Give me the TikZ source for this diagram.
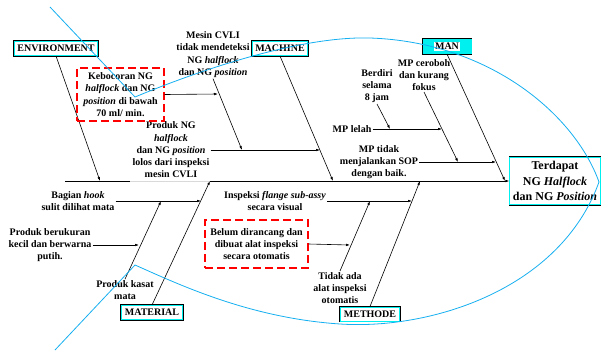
\documentclass[tikz,border=0pt]{standalone}
\usepackage{fontspec}
\setmainfont{Liberation Serif}
\usetikzlibrary{arrows.meta}
\usetikzlibrary{calc}
\definecolor{boxcyan}{RGB}{0,240,240}
\definecolor{fishblue}{RGB}{20,175,240}

\begin{document}
\begin{tikzpicture}[x=1pt,y=-1pt,
        txt/.style={font=\fontsize{10}{12.3}\selectfont\bfseries, align=center, inner sep=1pt},
        catbox/.style={txt, draw=boxcyan, line width=1pt, fill=white, inner xsep=3pt, minimum height=14pt, preaction={draw=black, line width=2.8pt}},
        effect/.style={catbox, font=\fontsize{12}{15.5}\selectfont\bfseries, minimum width=85pt, minimum height=47pt},
        redbox/.style={txt, draw=red, line width=1.3pt, dash pattern=on 8pt off 4pt},
        bone/.style={line width=0.6pt, -{Latex[length=4pt,width=2.6pt]}},
        fish/.style={draw=fishblue, line width=0.8pt}]
            \useasboundingbox (0,0) rectangle (601,351);
            \node[catbox] (env) at (56,48.5) {ENVIRONMENT};
            \node[catbox] (mach) at (280,48.5) {MACHINE};
            \node[catbox, fill=boxcyan, minimum width=48pt] (man) at (447,46.5) {\setlength{\fboxsep}{1pt}\colorbox{white}{MAN}};
            \node[catbox] (mat) at (152,312.5) {MATERIAL};
            \node[catbox] (meth) at (370,314) {METHODE};
            \node[effect] (ng) at (555,181) {Terdapat\\NG \textit{Halflock}\\dan NG \textit{Position}};
            \coordinate (tail) at (65,181);
            \coordinate (gapL) at (130,181);
            \coordinate (gapR) at (210,181);
            \draw[line width=0.7pt] (tail) -- (gapL);
            \draw[line width=0.7pt, gray!30] (gapL) -- (gapR);
            \draw[bone, line width=0.7pt] (gapR) -- (ng.west);
            \coordinate (e1) at (100,181);
            \coordinate (m1) at (333,181);
            \coordinate (n1) at (505,181);
            \coordinate (t1) at (210,181);
            \coordinate (d1) at (420,181);
            \foreach \a/\b in {env/e1,mach/m1,man/n1} {
                \draw[bone] (\a.south) -- (\b);
            }
            \foreach \a/\b in {mat/t1,meth/d1} {
                \draw[bone] (\a.north) -- (\b);
            }
            \coordinate (m2) at (320,150);
            \coordinate (m3) at (242,150);
            \coordinate (m4) at (218,94);
            \coordinate (n2) at (496,162);
            \coordinate (n3) at (458,162);
            \coordinate (n4) at (442,129);
            \coordinate (n5) at (390,129);
            \coordinate (t2) at (201,201);
            \coordinate (t3) at (161,201);
            \coordinate (t4) at (139,245);
            \coordinate (d2) at (412,201);
            \coordinate (d3) at (370,201);
            \coordinate (d4) at (350,245);
            \node[txt] (lolos) at (171,150) {Produk NG\\\textit{halflock}\\dan NG \textit{position}\\lolos dari inspeksi\\mesin CVLI};
            \node[txt] (cvli) at (213,54.5) {Mesin CVLI\\tidak mendeteksi\\NG \textit{halflock}\\dan NG \textit{position}};
            \node[redbox, minimum width=87pt, minimum height=53pt] (leak) at (120.5,94.5) {Kebocoran NG\\\textit{halflock} dan NG\\\textit{position} di bawah\\70 ml/ min.};
            \node[txt] (sop) at (379,162) {MP tidak\\menjalankan SOP\\dengan baik.};
            \node[txt] (careless) at (424,75) {MP ceroboh\\dan kurang\\fokus};
            \node[txt] (tired) at (352,129) {MP lelah};
            \node[txt] (stand) at (377,86) {Berdiri\\selama\\8 jam};
            \node[txt] (hook) at (78,201) {Bagian \textit{hook}\\sulit dilihat mata};
            \node[txt] (naked) at (125,290) {Produk kasat\\mata};
            \node[txt] (small) at (50,245) {Produk berukuran\\kecil dan berwarna\\putih.};
            \node[txt] (visual) at (275,201) {Inspeksi \textit{flange sub-assy}\\secara visual};
            \node[txt] (noauto) at (340,288) {Tidak ada\\alat inspeksi\\otomatis};
            \node[redbox, minimum width=103pt, minimum height=48pt] (design) at (256.5,244) {Belum dirancang dan\\dibuat alat inspeksi\\secara otomatis};
            \foreach \a/\b in {lolos.east/m2,cvli.south/m3,leak.east/m4,sop.east/n2,careless.south/n3,tired.east/n4,stand.south/n5,hook.east/t2,naked.north/t3,small.east/t4,visual.east/d2,noauto.north/d3,design.east/d4} {
                \draw[bone] (\a) -- (\b);
            }
            \draw[fish] (50,7) -- (135,97) .. controls (200,70) and (300,36) .. (370,38) .. controls (490,42) and (575,115) .. (599,182) .. controls (560,290) and (430,330) .. (340,324) .. controls (250,318) and (180,285) .. (135,265) -- (55,350);
        \end{tikzpicture}
\end{document}
